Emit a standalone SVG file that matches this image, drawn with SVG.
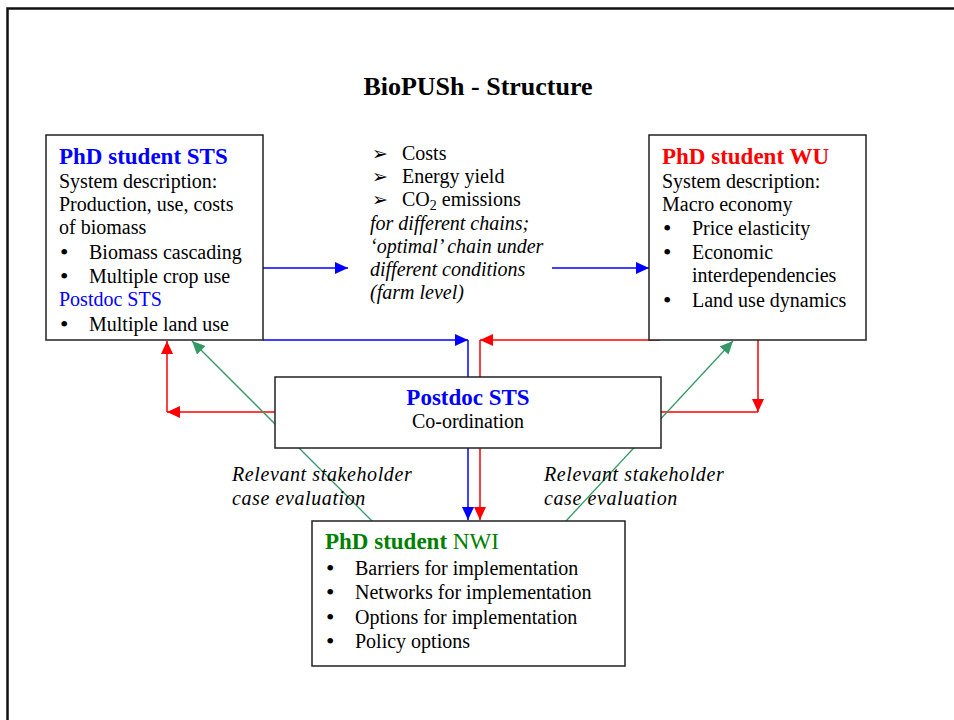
<svg xmlns="http://www.w3.org/2000/svg" width="954" height="720" viewBox="0 0 954 720">
<defs>
<style>
text{font-family:"Liberation Serif","Times New Roman",serif;font-size:20px;fill:#000}
.h{font-size:23px;font-weight:bold}
.it{font-style:italic}
.lb{font-style:italic;letter-spacing:0.6px}
.bu{font-size:24px}
.box{fill:#fff;stroke:#222;stroke-width:1.5}
.b{stroke:#0000ff;stroke-width:1.5;fill:none}
.r{stroke:#ff0000;stroke-width:1.5;fill:none}
.g{stroke:#339966;stroke-width:1.3;fill:none}
.dg{font-family:"DejaVu Sans",sans-serif;font-size:19px}
</style>
<marker id="ab" markerUnits="userSpaceOnUse" markerWidth="14" markerHeight="12" viewBox="0 0 14 12" refX="13" refY="6" orient="auto"><path d="M0,0 L13,6 L0,12 z" fill="#0000ff"/></marker>
<marker id="ar" markerUnits="userSpaceOnUse" markerWidth="14" markerHeight="12" viewBox="0 0 14 12" refX="13" refY="6" orient="auto"><path d="M0,0 L13,6 L0,12 z" fill="#ff0000"/></marker>
<marker id="ag" markerUnits="userSpaceOnUse" markerWidth="14" markerHeight="12" viewBox="0 0 14 12" refX="13" refY="6" orient="auto"><path d="M0,0 L13,6 L0,12 z" fill="#339966"/></marker>
</defs>
<rect width="954" height="720" fill="#fff"/>
<path d="M7.5,725 V8.5 H960" fill="none" stroke="#111" stroke-width="2.5"/>
<text x="478" y="95" text-anchor="middle" style="font-size:26px;font-weight:bold">BioPUSh - Structure</text>

<g id="connectors">
<line class="b" x1="263" y1="268" x2="348" y2="268" marker-end="url(#ab)"/>
<line class="b" x1="552" y1="268" x2="649" y2="268" marker-end="url(#ab)"/>
<line class="b" x1="263" y1="340" x2="468" y2="340" marker-end="url(#ab)"/>
<line class="b" x1="468" y1="340" x2="468" y2="520" marker-end="url(#ab)"/>
<line class="r" x1="660" y1="340" x2="480" y2="340" marker-end="url(#ar)"/>
<line class="r" x1="480" y1="340" x2="480" y2="520" marker-end="url(#ar)"/>
<line class="r" x1="275" y1="412" x2="167" y2="412" marker-end="url(#ar)"/>
<line class="r" x1="167" y1="412" x2="167" y2="341" marker-end="url(#ar)"/>
<line class="r" x1="661" y1="412" x2="758" y2="412"/>
<line class="r" x1="758" y1="340" x2="758" y2="412" marker-end="url(#ar)"/>
<line class="g" x1="372" y1="521" x2="192" y2="341" marker-end="url(#ag)"/>
<line class="g" x1="566" y1="521" x2="733" y2="341" marker-end="url(#ag)"/>
</g>

<g id="sts">
<rect class="box" x="46" y="135" width="217" height="205"/>
<text x="59" y="164" class="h" style="fill:#0000ff">PhD student STS</text>
<text x="59" y="188">System description:</text>
<text x="59" y="211">Production, use, costs</text>
<text x="59" y="234">of biomass</text>
<text x="60" y="260" class="bu">•</text><text x="89" y="259">Biomass cascading</text>
<text x="60" y="284" class="bu">•</text><text x="89" y="283">Multiple crop use</text>
<text x="59" y="306" style="fill:#0000ff">Postdoc STS</text>
<text x="60" y="332" class="bu">•</text><text x="89" y="331">Multiple land use</text>
</g>

<g id="wu">
<rect class="box" x="649" y="135" width="217" height="205"/>
<text x="662" y="164" class="h" style="fill:#ff0000">PhD student WU</text>
<text x="662" y="188">System description:</text>
<text x="662" y="211">Macro economy</text>
<text x="663" y="236" class="bu">•</text><text x="692" y="235">Price elasticity</text>
<text x="663" y="260" class="bu">•</text><text x="692" y="259">Economic</text>
<text x="692" y="282">interdependencies</text>
<text x="663" y="308" class="bu">•</text><text x="692" y="307">Land use dynamics</text>
</g>

<g id="chain">
<text x="372" y="160" class="dg">➢</text><text x="402" y="160">Costs</text>
<text x="372" y="183" class="dg">➢</text><text x="402" y="183">Energy yield</text>
<text x="372" y="206" class="dg">➢</text><text x="402" y="206">CO<tspan style="font-size:14px" dy="4">2</tspan><tspan dy="-4"> emissions</tspan></text>
<text x="370" y="230" class="it">for different chains;</text>
<text x="370" y="253" class="it">‘optimal’ chain under</text>
<text x="370" y="276" class="it">different conditions</text>
<text x="370" y="299" class="it">(farm level)</text>
</g>

<g id="postdoc">
<rect class="box" x="275" y="377" width="386" height="71"/>
<text x="468" y="405" text-anchor="middle" class="h" style="fill:#0000ff">Postdoc STS</text>
<text x="468" y="428" text-anchor="middle">Co-ordination</text>
</g>

<g id="labels">
<text x="232" y="481" class="lb">Relevant stakeholder</text>
<text x="232" y="505" class="lb">case evaluation</text>
<text x="544" y="481" class="lb">Relevant stakeholder</text>
<text x="544" y="505" class="lb">case evaluation</text>
</g>

<g id="nwi">
<rect class="box" x="312" y="521" width="313" height="145"/>
<text x="325" y="549" style="fill:#008000;font-size:23px"><tspan style="font-weight:bold">PhD student</tspan> NWI</text>
<text x="326" y="576" class="bu">•</text><text x="355" y="575">Barriers for implementation</text>
<text x="326" y="600" class="bu">•</text><text x="355" y="599">Networks for implementation</text>
<text x="326" y="625" class="bu">•</text><text x="355" y="624">Options for implementation</text>
<text x="326" y="649" class="bu">•</text><text x="355" y="648">Policy options</text>
</g>
</svg>
